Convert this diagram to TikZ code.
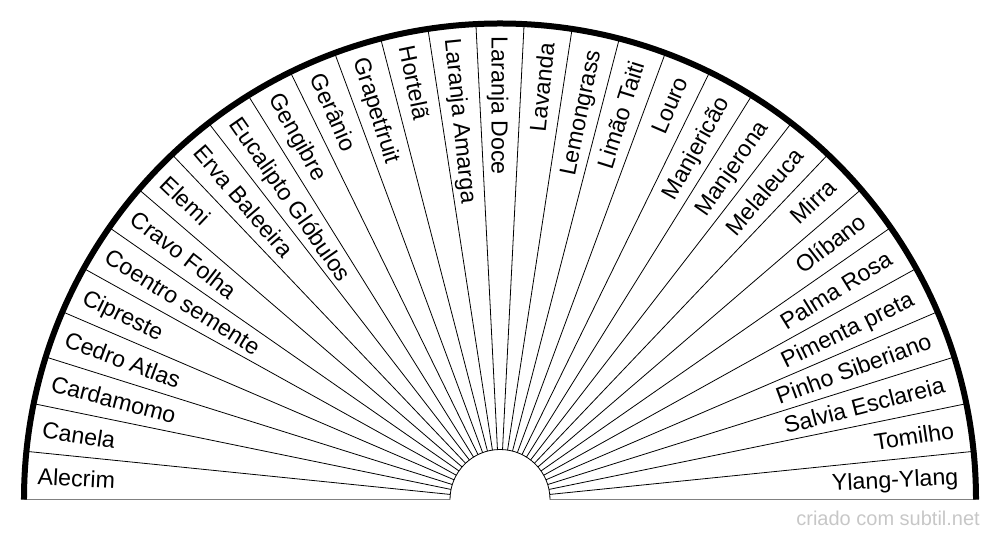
\documentclass[tikz,border=0pt]{standalone}
\usepackage{fontspec}
\setmainfont{Liberation Sans}
\begin{document}
\begin{tikzpicture}[x=1pt,y=1pt,
  spoke/.style={line width=0.8pt,black},
  rim/.style={line width=6pt,black,line cap=butt},
  baseln/.style={line width=1.5pt,black!50},
  lbl/.style={font=\fontsize{23.2}{27}\selectfont, inner sep=0pt, text height=16.6pt, text depth=0pt},
  wmark/.style={font=\fontsize{20}{23}\selectfont, inner sep=0pt, text=black!22}
  ]
\useasboundingbox (-500,-40.5) rectangle (500,499.5);
% spokes
\foreach \k in {1,...,30}{
  \pgfmathsetmacro\ang{180-\k*180/31}
  \draw[spoke] (\ang:50) -- (\ang:476);
}
% base line
\draw[baseln] (-479,0) -- (-50,0);
\draw[baseln] (50,0) -- (479,0);
% inner arc
\draw[spoke] (50,0) arc (0:180:50);
% outer rim
\draw[rim] (476,0) arc (0:180:476);
% labels
\foreach \name [count=\i from 0] in {Alecrim,Canela,Cardamomo,Cedro Atlas,Cipreste,Coentro semente,Cravo Folha,Elemi,Erva Baleeira,Eucalipto Glóbulos,Gengibre,Gerânio,Grapetfruit,Hortelã,Laranja Amarga,Laranja Doce,Lavanda,Lemongrass,Limão Taiti,Louro,Manjericão,Manjerona,Melaleuca,Mirra,Olíbano,Palma Rosa,Pimenta preta,Pinho Siberiano,Salvia Esclareia,Tomilho,Ylang-Ylang}{
  \pgfmathsetmacro\mid{180-(\i+0.5)*180/31}
  \ifnum\i<16
    \pgfmathsetmacro\rot{\mid-180}
    \node[lbl, anchor=west, rotate=\rot] (l\i) at (\mid:463) {\name};
  \else
    \node[lbl, anchor=east, rotate=\mid] (l\i) at (\mid:459) {\name};
  \fi
}
\node[wmark, anchor=base east] (wm) at (480,-26.5) {criado com subtil.net};
\end{tikzpicture}
\end{document}
